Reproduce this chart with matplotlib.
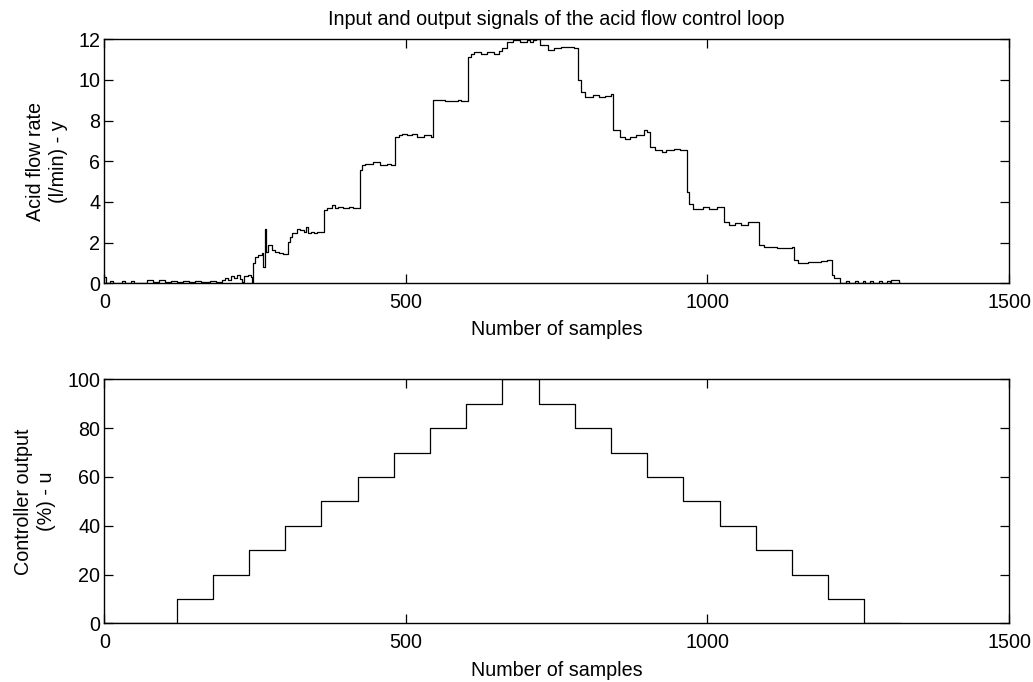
import matplotlib
matplotlib.use("Agg")
import matplotlib.pyplot as plt

plt.rcParams['font.family'] = ['Liberation Sans', 'DejaVu Sans']

# ---- data: acid flow rate (y), step-wise ----
y_samples = [0, 3, 10, 14, 30, 34, 45, 50, 70, 80, 90, 100, 110, 120, 130, 140, 150, 160, 175, 185,
             195, 200, 205, 210, 215, 220, 225, 228, 232, 238, 243, 245,
             246, 250, 255, 261, 263, 266, 268, 272, 278, 283, 290, 297,
             304, 308, 311, 320, 325, 331, 334, 337, 342, 348, 353,
             365, 370, 378, 383, 387, 395, 405, 413,
             424, 428, 433, 445, 457, 468, 475,
             482, 488, 494, 502, 510, 518, 530, 541,
             545, 553, 564, 575, 586, 591,
             603, 608, 613, 624, 635, 646, 655, 660,
             667, 678, 690, 700, 705, 711, 716,
             723, 735, 746, 757, 768, 779,
             786, 790, 797, 811, 820, 830, 840,
             844, 855, 863, 872, 882, 894, 900,
             905, 913, 924, 932, 944, 955,
             966, 970, 976, 992, 1003, 1015,
             1027, 1035, 1045, 1056, 1067, 1079,
             1086, 1094, 1104, 1115, 1126, 1140,
             1144, 1150, 1157, 1167, 1177, 1188, 1199,
             1206, 1210, 1220, 1230, 1235, 1245, 1250, 1258, 1262, 1270, 1275, 1285, 1290,
             1298, 1302, 1305, 1317, 1320]
y_values = [0.3, 0.0, 0.12, 0.0, 0.1, 0.0, 0.12, 0.0, 0.15, 0.08, 0.15, 0.05, 0.12, 0.04, 0.12, 0.05, 0.1, 0.04, 0.1, 0.04,
            0.15, 0.25, 0.18, 0.35, 0.25, 0.4, 0.2, 0.05, 0.35, 0.4, 0.3, 0.0,
            1.0, 1.3, 1.4, 1.5, 0.82, 2.69, 1.56, 1.88, 1.63, 1.56, 1.5, 1.46,
            2.05, 2.3, 2.46, 2.69, 2.62, 2.54, 2.78, 2.46, 2.54, 2.48, 2.54,
            3.6, 3.69, 3.85, 3.72, 3.77, 3.68, 3.74, 3.7,
            5.56, 5.8, 5.89, 5.97, 5.8, 5.89, 5.82,
            7.2, 7.3, 7.36, 7.3, 7.34, 7.2, 7.28, 7.2,
            9.0, 9.03, 8.97, 8.95, 9.03, 8.97,
            11.13, 11.3, 11.38, 11.3, 11.38, 11.3, 11.4, 11.55,
            11.87, 11.95, 11.87, 11.95, 11.87, 11.95, 12.0,
            11.72, 11.48, 11.55, 11.64, 11.6, 11.55,
            9.98, 9.41, 9.17, 9.25, 9.17, 9.22, 9.33,
            7.53, 7.2, 7.12, 7.2, 7.28, 7.53, 7.45,
            6.7, 6.54, 6.46, 6.54, 6.62, 6.54,
            4.5, 3.92, 3.67, 3.75, 3.67, 3.75,
            3.03, 2.87, 2.95, 2.87, 3.03, 3.03,
            1.87, 1.8, 1.8, 1.75, 1.72, 1.8,
            1.15, 0.98, 1.0, 1.05, 1.05, 1.1, 1.15,
            0.41, 0.25, 0.0, 0.1, 0.0, 0.12, 0.0, 0.12, 0.0, 0.12, 0.0, 0.1, 0.0,
            0.1, 0.0, 0.16, 0.0, 0.0]

# ---- data: controller output (u) ----
u_samples = [0, 120, 180, 240, 300, 360, 420, 480, 540, 600, 660, 720,
             780, 840, 900, 960, 1020, 1080, 1140, 1200, 1260, 1320]
u_values = [0, 10, 20, 30, 40, 50, 60, 70, 80, 90, 100, 90,
            80, 70, 60, 50, 40, 30, 20, 10, 0, 0]

x_ticks = [0, 500, 1000, 1500]
y_ticks_top = [0, 2, 4, 6, 8, 10, 12]
y_ticks_bottom = [0, 20, 40, 60, 80, 100]

title_text = "Input and output signals of the acid flow control loop"
xlabel_text = "Number of samples"
ylabel_top = "Acid flow rate\n(l/min) - y"
ylabel_bottom = "Controller output\n(%) - u"

FS = 14.2

fig = plt.figure(figsize=(10.33, 6.82), dpi=100)
ax1 = fig.add_axes([0.101, 0.5846, 0.8758, 0.3578])
ax2 = fig.add_axes([0.101, 0.0858, 0.8758, 0.358])

ax1.step(y_samples, y_values, where='post', color='black', lw=0.9)
ax2.step(u_samples, u_values, where='post', color='black', lw=0.9)

for ax, yt in ((ax1, y_ticks_top), (ax2, y_ticks_bottom)):
    ax.set_xlim(0, 1500)
    ax.set_ylim(yt[0], yt[-1])
    ax.set_xticks(x_ticks)
    ax.set_yticks(yt)
    ax.tick_params(direction='in', length=6.5, width=0.9, top=True, right=True,
                   labelsize=FS, colors='black')
    ax.tick_params(axis='x', pad=7)
    ax.tick_params(axis='y', pad=3)
    for s in ax.spines.values():
        s.set_linewidth(1.0)
        s.set_color('black')
    ax.set_xlabel(xlabel_text, fontsize=FS, labelpad=6)

ax1.set_title(title_text, fontsize=FS, pad=10)
ax1.set_ylabel(ylabel_top, fontsize=FS, linespacing=1.3)
ax1.yaxis.set_label_coords(-0.040, 0.5)
ax2.set_ylabel(ylabel_bottom, fontsize=FS, linespacing=1.3)
ax2.yaxis.set_label_coords(-0.053, 0.5)

fig.savefig("out.png", dpi=100)
